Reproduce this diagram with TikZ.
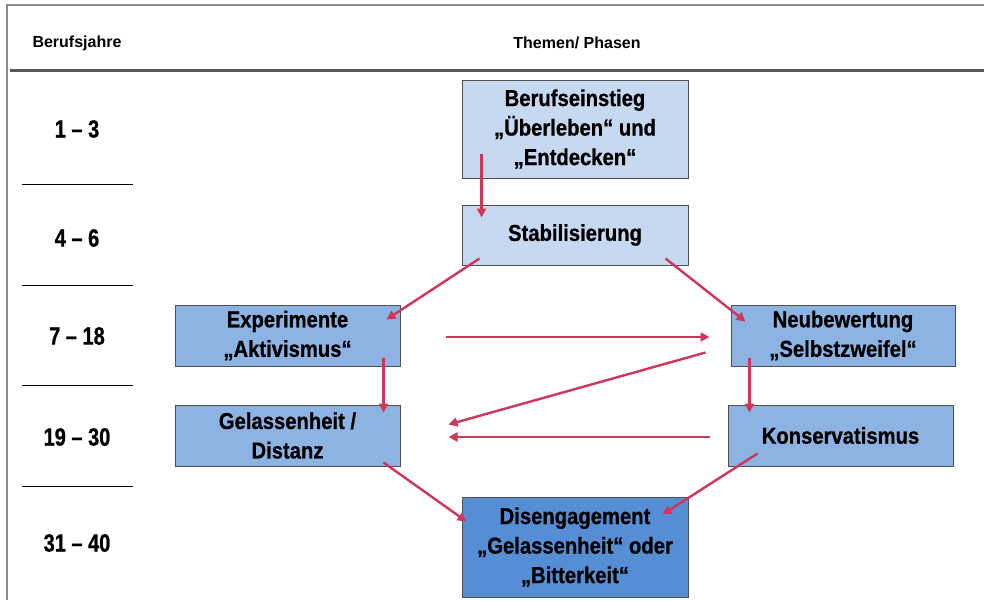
\documentclass[tikz,border=0pt]{standalone}
\usepackage{fontspec}
\setmainfont{Liberation Sans}
\newfontfamily\phasefont[FakeStretch=0.88,FakeBold=0.8]{Liberation Sans}
\newfontfamily\yearfont[FakeStretch=0.8,FakeBold=0.8]{Liberation Sans}
\usetikzlibrary{calc,arrows.meta}
\definecolor{phaseLight}{HTML}{C6D9F1}
\definecolor{phaseMid}{HTML}{8DB3E2}
\definecolor{phaseDark}{HTML}{558ED5}
\definecolor{boxEdge}{HTML}{505050}
\definecolor{flow}{HTML}{D0355A}
\definecolor{frameGray}{HTML}{8A8A8A}
\begin{document}
\begin{tikzpicture}[x=1pt,y=-1pt,
  phase/.style={draw=boxEdge,line width=1pt,minimum width=225pt,align=center,
    font=\phasefont\fontsize{23}{29.5}\selectfont\bfseries,inner sep=0pt},
  yearlabel/.style={font=\yearfont\fontsize{25}{28}\selectfont\bfseries},
  headlabel/.style={font=\fontsize{16}{19}\selectfont\bfseries},
  rowrule/.style={line width=0.8pt,black},
  flowarrow/.style={draw=flow,line width=2.4pt,-{Triangle[length=9pt,width=9pt]}}]
\useasboundingbox (0,0) rectangle (984,600);
\fill[white] (0,0) rectangle (984,600);
% outer frame and header rule
\draw[frameGray,line width=1.5pt] (7,600) -- (7,5) -- (984,5);
\draw[black!65,line width=3pt] (10,70) -- (984,70);
% column heads
\node[headlabel] (hy) at (77,43) {Berufsjahre};
\node[headlabel] (ht) at (577,43) {Themen/ Phasen};
% years column
\node[yearlabel] (y1) at (77,129) {1 – 3};
\node[yearlabel] (y2) at (77,238) {4 – 6};
\node[yearlabel] (y3) at (77,336) {7 – 18};
\node[yearlabel] (y4) at (77,437) {19 – 30};
\node[yearlabel] (y5) at (77,543) {31 – 40};
\foreach \yy in {184,285,385,486} \draw[rowrule] (22,\yy) -- (133,\yy);
% phase boxes
\node[phase,fill=phaseLight,minimum height=98pt,minimum width=226pt] (b1) at (575,129)
  {Berufseinstieg\\„Überleben“ und\\„Entdecken“};
\node[phase,fill=phaseLight,minimum height=60pt,minimum width=226pt] (b2) at (575,235)
  {Stabilisierung};
\node[phase,fill=phaseMid,minimum height=61pt] (b3) at (287.5,335.5)
  {Experimente\\„Aktivismus“};
\node[phase,fill=phaseMid,minimum height=61pt,minimum width=224pt] (b4) at (843,335.5)
  {Neubewertung\\„Selbstzweifel“};
\node[phase,fill=phaseMid,minimum height=61pt] (b5) at (287.5,435.5)
  {Gelassenheit /\\Distanz};
\node[phase,fill=phaseMid,minimum height=61pt] (b6) at (840.5,435.5)
  {Konservatismus};
\node[phase,fill=phaseDark,minimum height=100pt,minimum width=226pt] (b7) at (575,547)
  {Disengagement\\„Gelassenheit“ oder\\„Bitterkeit“};
% transitions
\draw[flowarrow] ($(b1.south west)+(20,-25)$) -- ($(b2.north west)+(20,13)$);
\draw[flowarrow] ($(b2.south west)+(18,-7)$) -- ($(b3.north east)+(-14,15)$);
\draw[flowarrow] ($(b2.south east)+(-23,-7)$) -- ($(b4.north west)+(15,17)$);
\draw[flowarrow] ($(b3.east)+(45,1.5)$) -- ($(b4.west)+(-21,1.5)$);
\draw[flowarrow] ($(b4.south west)+(-25,-14)$) -- ($(b5.north east)+(48,20)$);
\draw[flowarrow] ($(b6.west)+(-18,1.5)$) -- ($(b5.east)+(48,1.5)$);
\draw[flowarrow] ($(b3.south east)+(-17,-9)$) -- ($(b5.north east)+(-17,8)$);
\draw[flowarrow] ($(b4.south west)+(19,-9)$) -- ($(b6.north west)+(22,8)$);
\draw[flowarrow] ($(b5.south east)+(-17,-4)$) -- ($(b7.north west)+(5,25)$);
\draw[flowarrow] ($(b6.south west)+(30,-13)$) -- ($(b7.north east)+(-26,18)$);
\end{tikzpicture}
\end{document}
